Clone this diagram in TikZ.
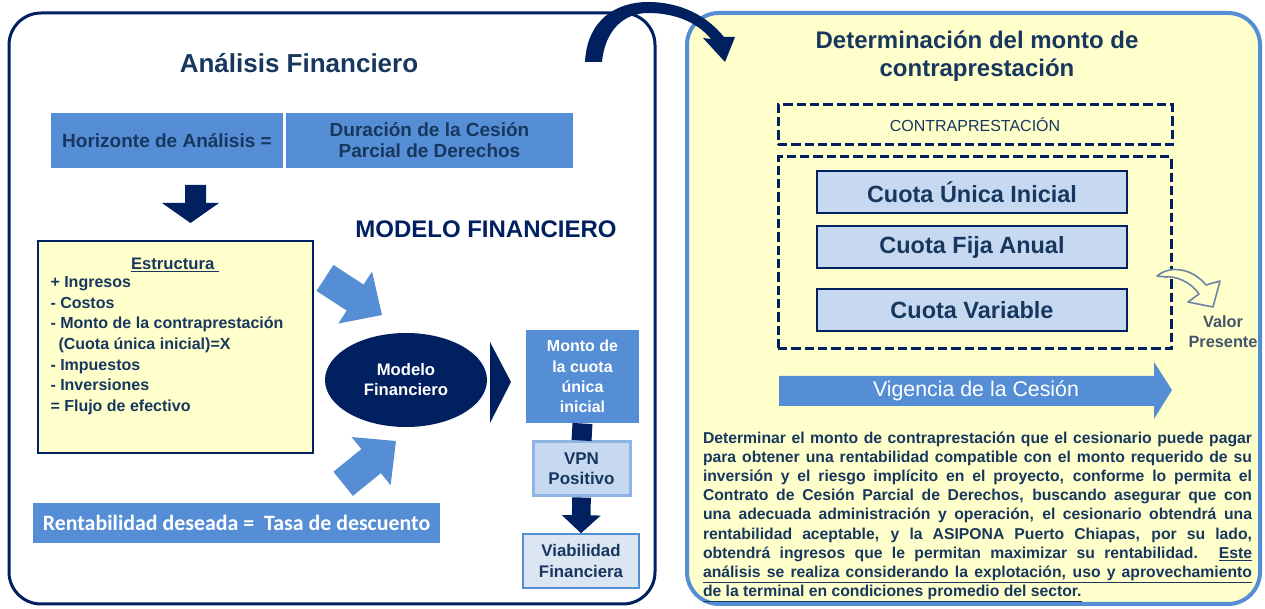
\documentclass[tikz,border=0pt]{standalone}
\usepackage{fontspec}
\setmainfont{Liberation Sans}
\newfontfamily\carlito{Carlito}
\usetikzlibrary{arrows.meta,shapes.geometric}

\definecolor{navyline}{RGB}{0,32,96}
\definecolor{navytext}{RGB}{23,55,94}
\definecolor{midblue}{RGB}{85,142,213}
\definecolor{paleblue}{RGB}{198,217,241}
\definecolor{lightblue}{RGB}{220,230,242}
\definecolor{paleyellow}{RGB}{255,255,204}
\definecolor{vpnedge}{RGB}{142,180,227}
\definecolor{slatetext}{RGB}{68,84,106}
\definecolor{slateedge}{RGB}{110,132,165}

\newcommand{\fsz}[2]{\fontsize{#1pt}{#2pt}\selectfont}
\def\px{0.75pt}

\tikzset{every picture/.style={line width=0.75pt}}
\tikzset{
  bluebox/.style={fill=midblue, inner sep=0pt, align=center},
  dashbox/.style={draw=navyline, line width=2.25pt, dash pattern=on 7pt off 3pt, inner sep=0pt},
  cuotabox/.style={draw=navyline, line width=1.5pt, fill=paleblue, inner sep=0pt,
    minimum width={310*\px}, minimum height={42*\px}, text=navytext, font=\bfseries\fsz{17.6}{20}},
}

\begin{document}
\begin{tikzpicture}[x=0.75pt,y=0.75pt,yscale=-1,xscale=1]
	\useasboundingbox (0,0) rectangle (1265,609);

	%Shape: Rounded Rect [left panel]
	\draw [draw=navyline, line width=2.25pt, rounded corners=24pt] (9,13) rectangle (655,604);
	%Shape: Rounded Rect [right panel]
	\draw [draw=midblue, fill=paleyellow, line width=3pt, rounded corners=24pt] (687,13) rectangle (1260,604);

	%Curved Arrow [top]
	\fill [navyline] (585,62) .. controls (587,20) and (616,2) .. (648,2) .. controls (682,2) and (708,17) .. (724,37) -- (735,37) -- (725,62) -- (703,38) -- (711,39) .. controls (698,23) and (676,13) .. (648,13) .. controls (624,13) and (605,30) .. (602,62) -- cycle ;

	% Text Node
	\node [font=\bfseries\fsz{19.5}{22}, text=navytext] (analisis) at (299,63) {Análisis Financiero};
	% Text Node
	\node [bluebox, minimum width={232*\px}, minimum height={55*\px}, text=navytext, font=\bfseries\fsz{14.25}{15.75}] (horizonte) at (167,140.5) {Horizonte de Análisis =};
	% Text Node
	\node [bluebox, minimum width={287*\px}, minimum height={55*\px}, text=navytext, font=\bfseries\fsz{14.25}{15.75}] (duracion) at (429.5,140.5) {Duración de la Cesión\\Parcial de Derechos};

	%Block Arrow [down]
	\fill [navyline] (185,185) -- (206,185) -- (206,203) -- (219,203) -- (190.5,223) -- (162,203) -- (185,203) -- cycle ;

	% Text Node
	\node [font=\bfseries\fsz{18}{20}, text=navyline] (modelotitulo) at (486,229) {MODELO FINANCIERO};

	%Shape: Rectangle [estructura]
	\node [draw=navyline, line width=1pt, fill=paleyellow, inner sep=0pt, minimum width={275*\px}, minimum height={212*\px}] (estructura) at (175.5,347) {};
	% Text Node
	\node [font=\bfseries\fsz{12.5}{15}, text=navytext] (estrtitulo) at (175,265) {\underline{Estructura\ }};
	% Text Node
	\node [anchor=west, align=left, inner sep=0pt, font=\bfseries\fsz{12}{15.5}, text=navytext] (estrlista) at (50,345.5) {+ Ingresos\\- Costos\\- Monto de la contraprestación\\\hspace*{6pt}(Cuota única inicial)=X\\- Impuestos\\- Inversiones\\= Flujo de efectivo};

	%Block Arrows [inputs]
	\fill [midblue, shift={(382,315)}, rotate=33] (0,0) -- (-32,31) -- (-32,15.5) -- (-68,15.5) -- (-68,-15.5) -- (-32,-15.5) -- (-32,-31) -- cycle ;
	\fill [midblue, shift={(396,441)}, rotate=-39] (0,0) -- (-32,31) -- (-32,15.5) -- (-68,15.5) -- (-68,-15.5) -- (-32,-15.5) -- (-32,-31) -- cycle ;

	%Shape: Ellipse
	\node [ellipse, fill=navyline, inner sep=0pt, minimum width={162*\px}, minimum height={94*\px}, align=center, text=white, font=\bfseries\fsz{12.5}{15}] (modelo) at (406,380) {Modelo\\Financiero};
	%Shape: Triangle
	\fill [navyline] (490,342) -- (511,382) -- (490,423) -- cycle ;

	% Text Node
	\node [bluebox, minimum width={113*\px}, minimum height={93*\px}, text=white, font=\bfseries\fsz{12}{15.2}] (monto) at (582.5,376.5) {Monto de\\la cuota\\única\\inicial};
	% Text Node
	\node [draw=vpnedge, line width=2.25pt, fill=paleblue, inner sep=0pt, minimum width={97*\px}, minimum height={54*\px}, align=center, text=navytext, font=\bfseries\fsz{12.75}{15}] (vpn) at (581.5,469) {VPN\\Positivo};
	% Text Node
	\node [draw=midblue, line width=1.1pt, fill=lightblue, inner sep=0pt, minimum width={116*\px}, minimum height={54*\px}, align=center, text=navytext, font=\bfseries\fsz{12.6}{15.5}] (viabilidad) at (581,561) {Viabilidad\\Financiera};

	%Connectors
	\draw [navyline, line width=15pt] (monto.south) -- (vpn.north) ;
	\draw [navyline, line width=14pt, -{Triangle[length=13.5pt,width=28.5pt]}] (vpn.south) -- (viabilidad.north) ;

	% Text Node
	\node [bluebox, minimum width={407*\px}, minimum height={40*\px}, text=white, font=\carlito\bfseries\fsz{16.4}{18}] (rentabilidad) at (236.5,523) {Rentabilidad deseada =\ \ Tasa de descuento};

	% Text Node
	\node [align=center, font=\bfseries\fsz{18}{21}, text=navytext] (determinacion) at (977,56) {Determinación del monto de\\contraprestación};
	% Text Node
	\node [dashbox, minimum width={394*\px}, minimum height={40*\px}, text=navytext, font=\fsz{12}{14}] (contra) at (975,125) {CONTRAPRESTACIÓN};
	%Shape: Dashed Rect
	\node [dashbox, minimum width={393*\px}, minimum height={192*\px}] (cuotas) at (974.5,253) {};
	% Text Node
	\node [cuotabox] (cuotaunica) at (972,192) {Cuota Única Inicial};
	% Text Node
	\node [cuotabox] (cuotafija) at (972,247) {Cuota Fija Anual};
	% Text Node
	\node [cuotabox] (cuotavariable) at (972,310) {Cuota Variable};

	%Curved Arrow [valor presente]
	\draw [draw=slateedge, fill=paleyellow, line width=1.2pt, line join=round] (1157,276) .. controls (1170,265) and (1192,268) .. (1206,285) -- (1220,281) -- (1213,307) -- (1188,302) -- (1199,294) .. controls (1190,281) and (1175,276) .. (1166,277) -- cycle ;
	% Text Node
	\node [align=center, font=\bfseries\fsz{12.25}{15}, text=slatetext] (valor) at (1223,332) {Valor\\Presente};

	%Block Arrow [vigencia]
	\fill [midblue] (779,376) -- (1154,376) -- (1154,362) -- (1172,390) -- (1154,419) -- (1154,406) -- (779,406) -- cycle ;
	% Text Node
	\node [text=white, font=\fsz{16}{18}] (vigencia) at (976,391) {Vigencia de la Cesión};

	% Text Node
	\node [text width={549*\px}, align=justify, inner sep=0pt, font=\bfseries\fsz{11.8}{14.4}, text=navytext] (descripcion) at (977.5,517) {\tolerance=10000 \hyphenpenalty=10000 Determinar el monto de contraprestación que el cesionario puede pagar\linebreak para obtener una rentabilidad compatible con el monto requerido de su\linebreak inversión y el riesgo implícito en el proyecto, conforme lo permita el\linebreak Contrato de Cesión Parcial de Derechos, buscando asegurar que con\linebreak una adecuada administración y operación, el cesionario obtendrá una\linebreak rentabilidad aceptable, y la ASIPONA Puerto Chiapas, por su lado,\linebreak obtendrá ingresos que le permitan maximizar su rentabilidad. \underline{Este}\linebreak \underline{\makebox[\linewidth][s]{análisis se realiza considerando la explotación, uso y aprovechamiento}}\linebreak \underline{de la terminal en condiciones promedio del sector.}};

\end{tikzpicture}
\end{document}
